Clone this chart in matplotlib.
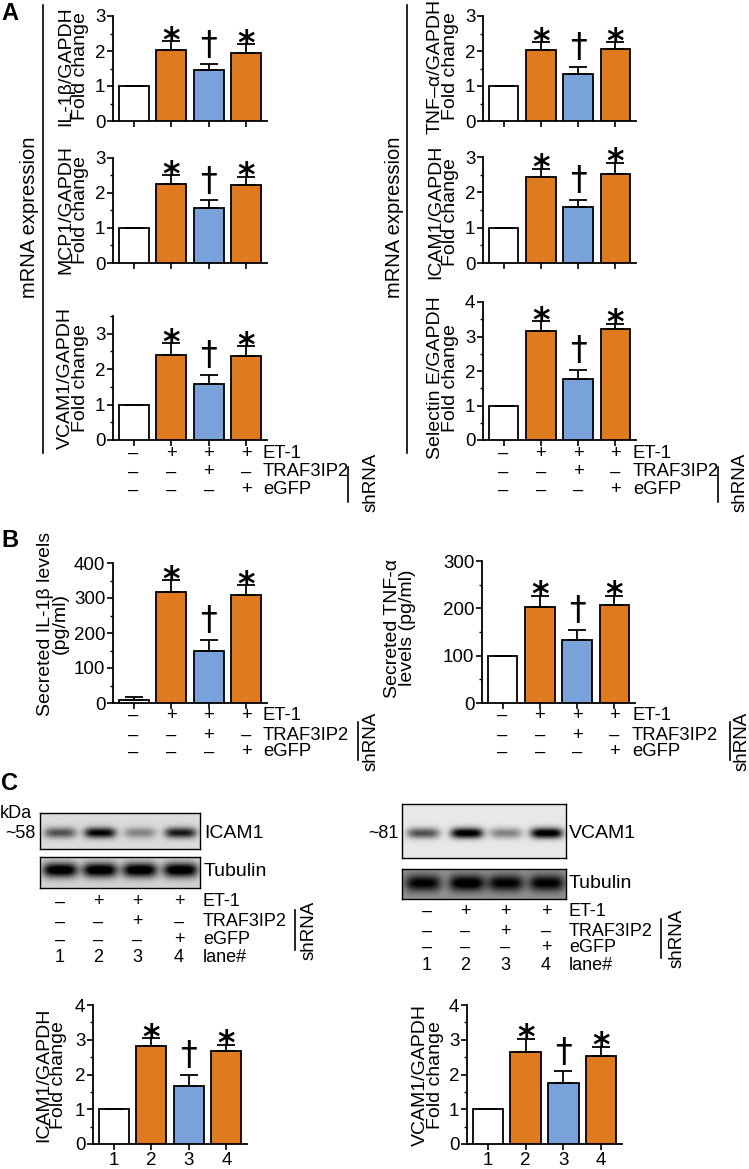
import numpy as np
import matplotlib
matplotlib.use('Agg')
import matplotlib.pyplot as plt
from matplotlib.ticker import MultipleLocator
from matplotlib.lines import Line2D
import matplotlib.transforms as mtransforms

plt.rcParams['font.family'] = ['Liberation Sans', 'DejaVu Sans']

W, H = 749, 1169

# ---- data ----
et1_row = ['–', '+', '+', '+']
traf_row = ['–', '–', '+', '–']
egfp_row = ['–', '–', '–', '+']
lane_row = ['1', '2', '3', '4']
sig_marks = ['', '*', '†', '*']

il1b_mrna = [1.0, 2.02, 1.45, 1.93]
il1b_mrna_err = [0, 0.26, 0.17, 0.26]
mcp1_mrna = [1.0, 2.27, 1.58, 2.24]
mcp1_mrna_err = [0, 0.23, 0.21, 0.23]
vcam1_mrna = [1.0, 2.40, 1.58, 2.38]
vcam1_mrna_err = [0, 0.33, 0.26, 0.26]
tnfa_mrna = [1.0, 2.02, 1.33, 2.06]
tnfa_mrna_err = [0, 0.24, 0.22, 0.20]
icam1_mrna = [1.0, 2.42, 1.58, 2.52]
icam1_mrna_err = [0, 0.25, 0.20, 0.32]
sele_mrna = [1.0, 3.16, 1.77, 3.23]
sele_mrna_err = [0, 0.29, 0.27, 0.14]

il1b_sec = [8, 318, 149, 308]
il1b_sec_err = [8, 34, 32, 28]
tnfa_sec = [100, 203, 133, 206]
tnfa_sec_err = [0, 24, 22, 21]

icam1_prot = [1.0, 2.81, 1.68, 2.69]
icam1_prot_err = [0, 0.24, 0.30, 0.17]
vcam1_prot = [1.0, 2.66, 1.76, 2.54]
vcam1_prot_err = [0, 0.37, 0.33, 0.26]

# band darkness per lane (0 = white, 1 = black)
icam1_bands = [0.55, 0.88, 0.35, 0.78]
tub_left_bands = [0.95, 0.95, 0.95, 0.95]
vcam1_bands = [0.6, 1.0, 0.4, 1.0]
tub_right_bands = [0.6, 0.65, 0.6, 0.6]

ORANGE = '#E07A1F'
BLUE = '#7AA2DA'
bar_colors = ['white', ORANGE, BLUE, ORANGE]

FS_TICK = 13.5
FS_LAB = 14
FS_TAB = 13.3

fig = plt.figure(figsize=(W / 100, H / 100), dpi=100)


def fx(x):
    return x / W


def fy(y):
    return 1 - y / H


def px_axes(x0, y0, x1, y1):
    return fig.add_axes([fx(x0), fy(y1), (x1 - x0) / W, (y1 - y0) / H])


def vline(x, y0, y1, lw=1.2):
    fig.add_artist(Line2D([fx(x), fx(x)], [fy(y0), fy(y1)], color='black', lw=lw))


def bar_chart(box, vals, errs, ymax, major, minor, ylabel, lab_xy, xlabels=False, show_top=None):
    ax = px_axes(*box)
    x = np.arange(len(vals))
    ax.bar(x, vals, width=0.8, color=bar_colors, edgecolor='black', linewidth=1.3, zorder=3)
    ax.errorbar(x, vals, yerr=[np.zeros(len(errs)), errs], fmt='none', ecolor='black',
                elinewidth=1.3, capsize=6.5, capthick=1.3, zorder=4)
    for i, m in enumerate(sig_marks):
        if m == '*':
            ax.annotate(m, xy=(i, vals[i] + errs[i]), xytext=(0, -7), textcoords='offset points',
                        ha='center', va='baseline', fontsize=24, fontweight='bold',
                        family='DejaVu Sans', annotation_clip=False)
        elif m:
            ax.annotate(m, xy=(i, vals[i] + errs[i]), xytext=(0, 7), textcoords='offset points',
                        ha='center', va='baseline', fontsize=24,
                        family='DejaVu Sans', annotation_clip=False)
    ax.set_xlim(-0.55, 3.55)
    ax.set_ylim(0, ymax)
    ax.yaxis.set_major_locator(MultipleLocator(major))
    ax.yaxis.set_minor_locator(MultipleLocator(minor))
    if show_top is not None:
        ax.set_yticks(np.arange(0, show_top + major / 2, major))
    ax.set_xticks(x)
    ax.set_xticklabels(lane_row if xlabels else [])
    for s in ['top', 'right']:
        ax.spines[s].set_visible(False)
    for s in ['left', 'bottom']:
        ax.spines[s].set_linewidth(1.3)
    ax.tick_params(axis='both', which='major', direction='out', length=4, width=1.2,
                   labelsize=FS_TICK, pad=1.5)
    ax.tick_params(axis='y', which='minor', direction='out', length=2.5, width=1.0)
    ax.patch.set_alpha(0)
    fig.text(fx(lab_xy[0]), fy(lab_xy[1]), ylabel, rotation=90, ha='center', va='center',
             multialignment='center', fontsize=FS_LAB, linespacing=0.85)
    return ax


def cond_rows(ax, ys, label_x, fs=FS_TAB):
    tr = mtransforms.blended_transform_factory(ax.transData, fig.transFigure)
    rows = [et1_row, traf_row, egfp_row]
    names = ['ET-1', 'TRAF3IP2', 'eGFP']
    for row, name, y in zip(rows, names, ys):
        for i, s in enumerate(row):
            ax.text(i, fy(y), s, transform=tr, ha='center', va='center', fontsize=fs)
        fig.text(fx(label_x), fy(y), name, ha='left', va='center', fontsize=fs)


def shrna(line_x, y0, y1, tx, ty):
    vline(line_x, y0, y1)
    fig.text(fx(tx), fy(ty), 'shRNA', rotation=90, ha='center', va='center', fontsize=13.5)


def blot(box, bands, bg, lanes, band_y, band_h, band_w=0.1):
    ax = px_axes(*box)
    xs = np.linspace(0, 1, 240)
    ys = np.linspace(0, 1, 80)
    X, Y = np.meshgrid(xs, ys)
    img = np.full_like(X, bg)
    for a, c in zip(bands, lanes):
        img += a * np.exp(-np.abs((X - c) / band_w) ** 4) * np.exp(-((Y - band_y) / band_h) ** 2)
    ax.imshow(np.clip(img, 0, 1), cmap='gray_r', vmin=0, vmax=1, aspect='auto',
              extent=(0, 1, 1, 0), interpolation='bilinear')
    ax.set_xticks([])
    ax.set_yticks([])
    for s in ax.spines.values():
        s.set_linewidth(1.0)
    return ax


# ---------------- panel A ----------------
fig.text(fx(1), fy(14), 'A', fontsize=17, fontweight='bold', va='center')
bar_chart((113, 16, 267, 121), il1b_mrna, il1b_mrna_err, 3, 1, 0.5,
          'IL-1β/GAPDH\nFold change', (73, 66))
bar_chart((113, 158, 267, 263), mcp1_mrna, mcp1_mrna_err, 3, 1, 0.5,
          'MCP1/GAPDH\nFold change', (73, 210))
axv = bar_chart((113, 316, 267, 440), vcam1_mrna, vcam1_mrna_err, 3.5, 1, 0.5,
                'VCAM1/GAPDH\nFold change', (73, 378), show_top=3)
cond_rows(axv, [453, 472, 490], 263)
shrna(348, 467, 502, 371, 482)

bar_chart((483, 16, 636, 121), tnfa_mrna, tnfa_mrna_err, 3, 1, 0.5,
          'TNF–α/GAPDH\nFold change', (443, 66))
bar_chart((483, 157, 636, 263), icam1_mrna, icam1_mrna_err, 3, 1, 0.5,
          'ICAM1/GAPDH\nFold change', (443, 212))
axs = bar_chart((483, 302, 636, 440), sele_mrna, sele_mrna_err, 4, 1, 0.5,
                'Selectin E/GAPDH\nFold change', (443, 378))
cond_rows(axs, [453, 472, 490], 633)
shrna(718, 467, 502, 740, 482)

vline(43, 5, 453)
fig.text(fx(30), fy(217), 'mRNA expression', rotation=90, ha='center', va='center', fontsize=14.5)
vline(407, 5, 453)
fig.text(fx(395), fy(217), 'mRNA expression', rotation=90, ha='center', va='center', fontsize=14.5)

# ---------------- panel B ----------------
fig.text(fx(1), fy(540), 'B', fontsize=17, fontweight='bold', va='center')
axb1 = bar_chart((113, 563, 267, 703), il1b_sec, il1b_sec_err, 400, 100, 50,
                 'Secreted IL-1β levels\n(pg/ml)', (53, 624))
cond_rows(axb1, [715, 735, 752], 263)
shrna(358, 722, 760, 371, 741)

axb2 = bar_chart((482, 561, 635, 703), tnfa_sec, tnfa_sec_err, 300, 100, 50,
                 'Secreted TNF-α\nlevels (pg/ml)', (400, 628))
cond_rows(axb2, [715, 735, 752], 632)
shrna(730, 722, 760, 742, 741)

# ---------------- panel C ----------------
fig.text(fx(1), fy(783), 'C', fontsize=17, fontweight='bold', va='center')

left_lanes_px = [60, 98, 137, 179]
right_lanes_px = [427, 465, 505, 546]

blot((40, 813, 200, 849), icam1_bands, 0.14, [0.125, 0.375, 0.625, 0.88], 0.55, 0.15)
blot((40, 857, 200, 888), tub_left_bands, 0.17, [0.125, 0.375, 0.625, 0.88], 0.42, 0.24, 0.11)
fig.text(fx(0), fy(814), 'kDa', fontsize=13, va='center')
fig.text(fx(36), fy(834), '~58', fontsize=13, va='center', ha='right')
fig.text(fx(204), fy(833), 'ICAM1', fontsize=14, va='center')
fig.text(fx(204), fy(871), 'Tubulin', fontsize=14, va='center')

blot((402, 804, 566, 858), vcam1_bands, 0.09, [0.128, 0.396, 0.634, 0.884], 0.54, 0.1)
blot((402, 869, 566, 899), tub_right_bands, 0.42, [0.128, 0.396, 0.634, 0.884], 0.47, 0.28, 0.11)
fig.text(fx(399), fy(833), '~81', fontsize=13, va='center', ha='right')
fig.text(fx(569), fy(833), 'VCAM1', fontsize=14, va='center')
fig.text(fx(569), fy(884), 'Tubulin', fontsize=14, va='center')

row_sets = [et1_row, traf_row, egfp_row, lane_row]
row_names = ['ET-1', 'TRAF3IP2', 'eGFP', 'lane#']
for lanes_px, ys, lx in [(left_lanes_px, [902, 922, 940, 958], 203),
                         (right_lanes_px, [911, 931, 947, 965], 569)]:
    for row, name, y in zip(row_sets, row_names, ys):
        for xp, s in zip(lanes_px, row):
            fig.text(fx(xp), fy(y), s, ha='center', va='center', fontsize=13)
        fig.text(fx(lx), fy(y), name, ha='left', va='center', fontsize=13)
shrna(295, 910, 950, 309, 930)
shrna(661, 919, 958, 677, 938)

bar_chart((93, 1005, 247, 1144), icam1_prot, icam1_prot_err, 4, 1, 0.5,
          'ICAM1/GAPDH\nFold change', (51, 1075), xlabels=True)
bar_chart((467, 1005, 622, 1144), vcam1_prot, vcam1_prot_err, 4, 1, 0.5,
          'VCAM1/GAPDH\nFold change', (428, 1075), xlabels=True)

fig.savefig('out.png', dpi=100)
